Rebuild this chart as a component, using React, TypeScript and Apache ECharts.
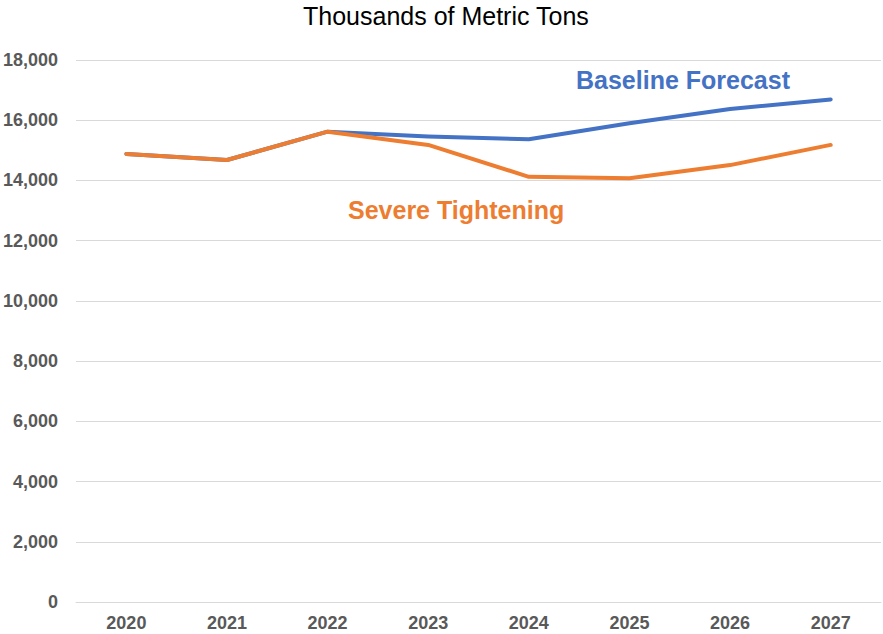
import React, { useEffect, useRef } from "react";
import * as echarts from "echarts";

const years = ["2020", "2021", "2022", "2023", "2024", "2025", "2026", "2027"];
const baseline = [14880, 14680, 15620, 15460, 15370, 15900, 16370, 16690];
const severe = [14880, 14680, 15620, 15180, 14120, 14070, 14510, 15180];
const titleText = "Thousands of Metric Tons";
const baselineLabel = "Baseline Forecast";
const severeLabel = "Severe Tightening";

export default function App() {
  const ref = useRef<HTMLDivElement>(null);
  useEffect(() => {
    if (!ref.current) return;
    const chart = echarts.init(ref.current, null, { renderer: "svg" });
    const font = "Arial, 'Liberation Sans', sans-serif";
    chart.setOption({
      animation: false,
      backgroundColor: "#ffffff",
      title: {
        text: titleText,
        left: 298,
        top: -2,
        textStyle: { fontFamily: font, fontSize: 25, fontWeight: "normal", color: "#000000" },
      },
      grid: { left: 76, right: 2, top: 60, bottom: 32 },
      xAxis: {
        type: "category",
        data: years,
        boundaryGap: true,
        axisLine: { show: true, lineStyle: { color: "#d9d9d9", width: 1 } },
        axisTick: { show: false },
        axisLabel: { fontFamily: font, fontSize: 18, fontWeight: "bold", color: "#595959", margin: 12 },
      },
      yAxis: {
        type: "value",
        min: 0,
        max: 18000,
        interval: 2000,
        axisLine: { show: false },
        axisTick: { show: false },
        splitLine: { lineStyle: { color: "#d9d9d9", width: 1 } },
        axisLabel: {
          fontFamily: font,
          fontSize: 18,
          fontWeight: "bold",
          color: "#595959",
          margin: 18,
          formatter: (v: number) => v.toLocaleString("en-US"),
        },
      },
      series: [
        {
          name: baselineLabel,
          type: "line",
          data: baseline,
          symbol: "none",
          lineStyle: { color: "#4472C4", width: 4, cap: "round", join: "round" },
          z: 2,
        },
        {
          name: severeLabel,
          type: "line",
          data: severe,
          symbol: "none",
          lineStyle: { color: "#ED7D31", width: 4, cap: "round", join: "round" },
          z: 3,
        },
      ],
      graphic: [
        {
          type: "text",
          left: 576,
          top: 67,
          style: {
            text: baselineLabel,
            fontFamily: font,
            fontSize: 25,
            fontWeight: "bold",
            fill: "#4472C4",
          },
        },
        {
          type: "text",
          left: 348,
          top: 197,
          style: {
            text: severeLabel,
            fontFamily: font,
            fontSize: 25,
            fontWeight: "bold",
            fill: "#ED7D31",
          },
        },
      ],
    });
    return () => chart.dispose();
  }, []);
  return (
    <div
      ref={ref}
      style={{ position: "absolute", left: 0, top: 0, width: 883, height: 634 }}
    />
  );
}
